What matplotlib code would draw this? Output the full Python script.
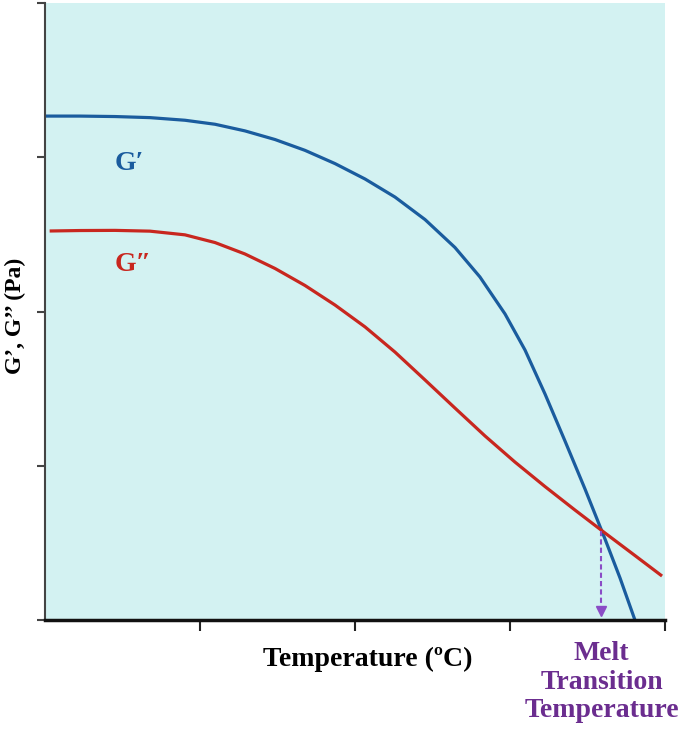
import matplotlib.pyplot as plt

# curves (arbitrary units, axes 0..4)
g1_x = [0, 0.226, 0.452, 0.677, 0.903, 1.097, 1.290, 1.484, 1.677, 1.871, 2.065, 2.258,
        2.452, 2.645, 2.806, 2.968, 3.097, 3.226, 3.355, 3.484, 3.613, 3.710, 3.806]
g1_y = [3.267, 3.267, 3.264, 3.257, 3.240, 3.214, 3.171, 3.115, 3.045, 2.959, 2.859, 2.742,
        2.596, 2.415, 2.224, 1.984, 1.750, 1.465, 1.160, 0.849, 0.525, 0.272, 0.0]

g2_x = [0.03, 0.226, 0.452, 0.677, 0.903, 1.097, 1.290, 1.484, 1.677, 1.871, 2.065, 2.258,
        2.452, 2.645, 2.839, 3.032, 3.226, 3.419, 3.613, 3.806, 3.981]
g2_y = [2.522, 2.525, 2.526, 2.521, 2.497, 2.447, 2.373, 2.279, 2.169, 2.042, 1.900, 1.737,
        1.556, 1.374, 1.193, 1.024, 0.865, 0.713, 0.564, 0.418, 0.285]

melt_x = 3.59
melt_y = 0.575

xticks = [1, 2, 3, 4]
yticks = [0, 1, 2, 3, 4]

serif = ['Liberation Serif', 'DejaVu Serif']
purple = '#6b2d8f'

fig = plt.figure(figsize=(6.85, 7.38), dpi=100)
ax = fig.add_axes([0.0657, 0.1599, 0.9051, 0.836])
ax.set_facecolor('#d3f2f2')

ax.plot(g1_x, g1_y, color='#1a5c9e', lw=2.3, solid_capstyle='butt')
ax.plot(g2_x, g2_y, color='#c8271f', lw=2.3, solid_capstyle='butt')

# dashed arrow down to the axis
ax.plot([melt_x, melt_x], [melt_y, 0.09], color='#8a4cc6', lw=1.5, ls=(0, (2.5, 1.5)))
ax.plot([melt_x], [0.06], marker='v', color='#8a4cc6', ms=7)

ax.text(0.45, 2.92, 'G′', color='#1a5c9e', fontsize=20, fontweight='bold', family=serif)
ax.text(0.45, 2.26, 'G″', color='#c8271f', fontsize=20, fontweight='bold', family=serif)

ax.set_xlim(0, 4)
ax.set_ylim(0, 4)
ax.set_xticks(xticks)
ax.set_yticks(yticks)
ax.set_xticklabels([])
ax.set_yticklabels([])
ax.tick_params(axis='x', length=8, width=1.5, direction='out', color='#222222')
ax.tick_params(axis='y', length=6, width=1.5, direction='out', color='#444444')

for s in ['top', 'right']:
    ax.spines[s].set_visible(False)
ax.spines['left'].set_linewidth(1.5)
ax.spines['left'].set_color('#444444')
ax.spines['bottom'].set_linewidth(2.5)
ax.spines['bottom'].set_color('#111111')

ax.set_xlabel('Temperature (ºC)', fontsize=20, fontweight='bold', family=serif)
ax.xaxis.set_label_coords(0.52, -0.043, transform=ax.transAxes)
ax.xaxis.label.set_va('top')
ax.set_ylabel('G’, G’’ (Pa)', fontsize=17, fontweight='bold', family=serif)
ax.yaxis.set_label_coords(-0.03, 0.493)

ax.text(melt_x, -0.135, 'Melt\nTransition\nTemperature', color=purple, fontsize=20,
        fontweight='bold', family=serif, ha='center', va='top', linespacing=1.2)

fig.savefig('out.png', dpi=100)
